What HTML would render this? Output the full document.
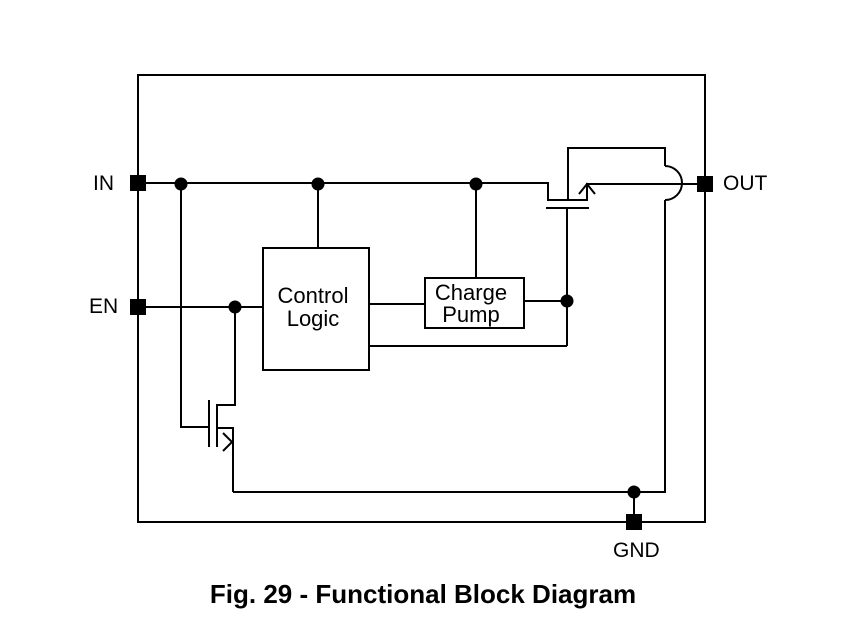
<!DOCTYPE html>
<html><head><style>body{margin:0;background:#fff}</style></head><body>
<svg width="851" height="622" viewBox="0 0 851 622" xmlns="http://www.w3.org/2000/svg" style="display:block">
<g fill="none" stroke="#000" stroke-width="2">
<rect x="138" y="75" width="567" height="447"/>
<rect x="263" y="248" width="106" height="122"/>
<rect x="425" y="278" width="99" height="50"/>
<polyline points="138,183 548,183 548,200 588,200"/>
<line x1="318" y1="183" x2="318" y2="248"/>
<line x1="476" y1="183" x2="476" y2="278"/>
<line x1="546" y1="208" x2="589" y2="208"/>
<line x1="567" y1="208" x2="567" y2="346"/>
<polyline points="568,200 568,148 665,148 665,166"/>
<path d="M665,166 A17,17 0 0 1 665,200"/>
<polyline points="665,200 665,492 233,492"/>
<polyline points="587,200 587,184 705,184"/>
<polyline points="579,194 587,184 595,194"/>
<line x1="369" y1="304" x2="425" y2="304"/>
<line x1="524" y1="301" x2="567" y2="301"/>
<line x1="369" y1="346" x2="567" y2="346"/>
<line x1="138" y1="307" x2="263" y2="307"/>
<polyline points="235,307 235,405 217,405 217,447"/>
<polyline points="217,428 233,428 233,492"/>
<polyline points="223,433 232,442 223,451"/>
<line x1="209" y1="400" x2="209" y2="447"/>
<polyline points="181,183 181,427 209,427"/>
<line x1="634" y1="492" x2="634" y2="522"/>
</g>
<g fill="#000">
<rect x="130" y="175" width="16" height="16"/>
<rect x="130" y="299" width="16" height="16"/>
<rect x="697" y="176" width="16" height="16"/>
<rect x="626" y="514" width="16" height="16"/>
<circle cx="181" cy="184" r="6.5"/>
<circle cx="318" cy="184" r="6.5"/>
<circle cx="476" cy="184" r="6.5"/>
<circle cx="235" cy="307" r="6.5"/>
<circle cx="567" cy="301" r="6.5"/>
<circle cx="634" cy="492" r="6.5"/>
</g>
<g font-family="Liberation Sans, sans-serif" font-size="21" fill="#000">
<text x="93" y="190">IN</text>
<text x="89" y="313">EN</text>
<text x="723" y="190">OUT</text>
<text x="613" y="557">GND</text>
<text x="313" y="303" text-anchor="middle" font-size="22">Control</text>
<text x="313" y="326" text-anchor="middle" font-size="22">Logic</text>
<text x="471" y="300" text-anchor="middle" font-size="22">Charge</text>
<text x="471" y="322" text-anchor="middle" font-size="22">Pump</text>
<text x="423" y="603" text-anchor="middle" font-weight="bold" font-size="26">Fig. 29 - Functional Block Diagram</text>
</g>
</svg>
</body></html>
